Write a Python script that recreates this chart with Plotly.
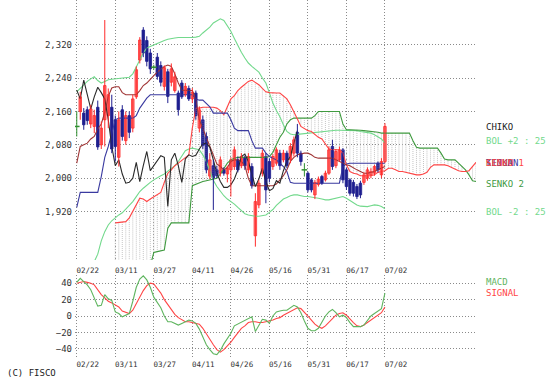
import plotly.graph_objects as go

# ---------------- data ----------------
tick_idx = [0, 11, 22, 33, 44, 55, 66, 77, 88]
tick_labels = ["02/22", "03/11", "03/27", "04/11", "04/26", "05/16", "05/31", "06/17", "07/02"]
price_ticks = [1920, 2000, 2080, 2160, 2240, 2320]
macd_ticks = [-40, -20, 0, 20, 40]

opens = [2124,2160,2156,2164,2130,2124,2170,2080,2140,2150,
         2170,2140,2050,2164,2090,2150,2120,2195,2283,2355,
         2330,2300,2266,2290,2270,2220,2255,2230,2210,2204,
         2228,2200,2215,2190,2204,2120,2140,2100,2005,2030,
         2020,2012,2020,2010,2020,2028,2044,2030,2048,2020,
         2028,1862,1936,2012,2052,2040,2028,2036,2060,2044,
         2060,2044,2060,2110,2060,2020,2012,1996,1960,1985,
         2004,1996,2012,2076,2030,2044,2068,2020,1996,1990,
         1980,1988,1990,2000,2008,2012,2036,2008,2040]
highs = [2160,2207,2168,2172,2176,2164,2186,2136,2379,2215,
         2200,2150,2160,2175,2160,2160,2200,2268,2338,2362,
         2340,2310,2272,2300,2280,2270,2262,2275,2255,2210,
         2235,2228,2222,2216,2210,2172,2150,2110,2060,2044,
         2030,2052,2026,2030,2050,2076,2052,2060,2054,2060,
         2036,1964,1996,2068,2060,2048,2058,2074,2068,2068,
         2066,2084,2100,2130,2066,2036,2016,2000,1996,2004,
         2008,2018,2076,2092,2070,2076,2072,2026,2000,1996,
         1986,1994,2014,2026,2024,2032,2040,2048,2132]
lows = [2100,2140,2116,2128,2120,2108,2068,2070,2076,2120,
        2060,2040,2028,2090,2080,2096,2110,2190,2275,2290,
        2268,2250,2260,2236,2220,2210,2180,2220,2205,2150,
        2190,2195,2185,2180,2140,2110,2070,2012,1998,1924,
        2000,2004,2006,1990,1956,2020,2014,2024,2020,2012,
        1975,1836,1928,2004,1940,1990,2020,2030,2020,2038,
        2024,2036,2052,2050,2030,2004,1966,1966,1950,1980,
        1984,1992,2008,2020,2024,2040,1988,1972,1958,1956,
        1950,1952,1984,1994,2000,2006,2014,2000,2036]
closes = [2124,2195,2128,2138,2166,2150,2075,2120,2222,2200,
          2070,2076,2140,2100,2150,2110,2190,2260,2331,2300,
          2280,2262,2266,2244,2230,2265,2196,2262,2243,2164,
          2195,2220,2190,2206,2150,2164,2078,2020,2044,2000,
          2006,2044,2012,2025,2044,2068,2020,2052,2030,2052,
          1982,1944,1988,2060,1972,2000,2052,2068,2030,2060,
          2030,2076,2092,2060,2040,2020,1972,1972,1990,1998,
          1988,2012,2068,2028,2064,2068,1996,1980,1964,1964,
          1956,1960,2008,2020,2016,2028,2020,2040,2124]

tenkan = [2036,2076,2080,2084,2094,2100,2118,2130,2158,2196,
          2216,2219,2219,2205,2200,2200,2200,2200,2210,2222,
          2228,2238,2246,2254,2262,2268,2271,2268,2250,2228,
          2211,2210,2210,2210,2188,2140,2118,2100,2076,2052,
          2034,2028,2020,2025,2040,2044,2044,2040,2030,2000,
          1982,1982,1982,1982,1982,1982,1982,1986,1996,2006,
          2020,2040,2050,2056,2058,2060,2060,2056,2050,2048,
          2048,2048,2048,2048,2044,2040,2034,2032,2030,2024,
          2020,2016,2012,2012,2014,2016,2020,2024,2028]
kijun = [1930,1966,1966,1966,1966,1966,1966,2004,2050,2076,
         2110,2140,2144,2144,2144,2144,2144,2150,2168,2180,
         2192,2200,2200,2200,2200,2200,2200,2200,2200,2200,
         2200,2200,2200,2200,2190,2187,2187,2180,2171,2156,
         2156,2156,2156,2156,2140,2120,2114,2114,2114,2114,
         2090,2072,2072,2072,2060,2052,2048,2044,2036,2028,
         2016,1990,1988,1988,1988,1988,1988,1988,1988,1988,
         1988,1988,1988,1988,1988,1988,2028,2034,2036,2036,
         2036,2036,2036,2036,2036,2036,2036,2036,2036]
chiko = [2211,2190,2235,2200,2166,2195,2218,2205,2190,2140,
         2076,2030,2044,2010,1988,1990,2000,2038,1992,2030,
         2064,2018,2030,2042,2054,2050,1932,2044,2060,2030,
         1990,2046,2056,2052,2055,2070,2082,2084,2074,2044,
         2012,1992,1978,1978,1984,1998,2020,2052,2058,2040,
         2010,1980,1998,2024,1992,1970,1975,1994,1988,2018,
         2040,2052,2084,2114]
bol_up = [2207,2215,2225,2232,2238,2243,2234,2228,2232,2236,
          2237,2238,2239,2240,2240,2242,2250,2268,2285,2300,
          2312,2316,2320,2324,2327,2330,2333,2335,2336,2337,
          2337,2336,2336,2337,2338,2340,2348,2355,2362,2372,
          2378,2382,2378,2365,2352,2335,2318,2302,2288,2276,
          2268,2260,2254,2240,2228,2205,2180,2162,2147,2128,
          2112,2106,2104,2105,2106,2107,2108,2109,2110,2110,
          2111,2112,2113,2114,2115,2115,2115,2114,2114,2114,
          2114,2112,2111,2110,2108,2104,2100,2094,2084]
bol_dn = [1740,1752,1764,1776,1788,1800,1818,1850,1872,1888,
          1898,1906,1912,1917,1926,1935,1944,1956,1968,1976,
          1984,1990,1996,2002,2006,2010,2016,2022,2030,2040,
          2052,2066,2070,2072,2070,2068,2056,2040,2018,1995,
          1980,1968,1958,1950,1945,1938,1930,1922,1915,1912,
          1910,1909,1909,1910,1912,1918,1925,1935,1943,1950,
          1954,1958,1960,1960,1958,1956,1956,1955,1954,1952,
          1950,1948,1948,1950,1953,1955,1956,1952,1946,1940,
          1936,1933,1932,1932,1934,1936,1935,1932,1927]
senko_start = 11
senko1 = [1893,1894,1895,1896,1905,1920,1935,1952,1950,1944,
          1950,1956,1960,1966,1990,2012,2020,2030,2036,2042,
          2050,2056,2120,2168,2168,2170,2170,2170,2170,2168,
          2162,2152,2172,2190,2198,2210,2218,2224,2232,2235,
          2230,2224,2215,2207,2205,2204,2204,2204,2198,2190,
          2176,2160,2142,2124,2118,2114,2112,2104,2098,2094,
          2082,2070,2068,2068,2068,2060,2032,2016,2012,2010,
          2006,2006,2006,2006,2008,2014,2016,2018,2024,2024,
          2020,2016,2016,2014,2012,2010,2008,2008,2010,2014,
          2026,2032,2032,2032,2032,2030,2026,2022,2018,2016,
          2016,2018,2028,2038]
senko2 = [1780,1780,1780,1780,1780,1780,1780,1780,1780,1780,
          1790,1822,1824,1826,1828,1880,1893,1893,1893,1893,
          1893,1893,1982,1986,1990,1992,1994,1996,1998,2000,
          2010,2022,2036,2044,2048,2050,2050,2050,2050,2050,
          2050,2050,2050,2050,2052,2062,2080,2098,2110,2130,
          2140,2144,2144,2144,2144,2144,2144,2150,2160,2160,
          2160,2160,2160,2160,2160,2130,2116,2116,2116,2116,
          2115,2114,2113,2112,2112,2110,2108,2108,2108,2108,
          2108,2108,2108,2108,2108,2090,2074,2072,2072,2072,
          2072,2072,2072,2060,2046,2044,2044,2044,2036,2028,
          2020,2008,1994,1992]
macd = [41,46,42,38,32,21,12,13,26,21,
        19,5,3,-1,1,3,18,35,45,49,
        44,35,23,16,10,0,-7,-7,-9,-11,
        -9,-7,-5,-6,-9,-16,-26,-35,-41,-46,
        -47,-42,-34,-28,-21,-12,-10,-8,-6,-3,
        -1,-19,-11,-4,-5,-9,0,5,6,7,
        7,10,13,11,4,-6,-15,-18,-18,-15,
        -8,0,5,8,4,-1,1,-2,-8,-13,
        -13,-13,-11,-5,0,3,6,9,28]
signal = [40,41,42,41,40,38,32,26,22,18,
          16,14,11,6,4,3,7,15,23,31,
          37,40,39,34,28,20,14,7,2,-2,
          -5,-7,-7,-8,-9,-10,-15,-22,-29,-35,
          -41,-44,-41,-37,-32,-26,-20,-15,-12,-8,
          -7,-7,-8,-8,-7,-6,-5,-3,-2,1,
          3,6,8,10,9,5,0,-5,-10,-13,
          -15,-12,-8,-3,1,3,4,1,-4,-8,
          -12,-13,-11,-8,-5,-3,0,4,11]

# ---------------- styles ----------------
FONT = "DejaVu Sans Mono"
C_UP_FILL, C_UP_LINE = "#ff8a8a", "#ff2b2b"
C_DN = "#1f1f8f"
C_DOJI = "#2f8f2f"
C_RED = "#ff4545"
C_DGREEN = "#3f9a3f"
C_LGREEN = "#72d98c"
C_NAVY = "#3a3aa0"
C_BROWN = "#a03535"
C_GRID = "#8a8a8a"

n = len(closes)
idx = list(range(n))
fig = go.Figure()

# cloud hatch: vertical lines between the two senko spans
hx, hy = [], []
for k, (a, b) in enumerate(zip(senko1, senko2)):
    i = senko_start + k
    hx += [i, i, None]
    hy += [a, b, None]
fig.add_trace(go.Scatter(x=hx, y=hy, mode="lines",
                         line=dict(color="#c4c4c4", width=1, dash="1px,1px"),
                         hoverinfo="skip", xaxis="x", yaxis="y"))

sx = [senko_start + k for k in range(len(senko1))]
def line(x, y, color, w=1.1, xa="x", ya="y"):
    fig.add_trace(go.Scatter(x=x, y=y, mode="lines", line=dict(color=color, width=w),
                             hoverinfo="skip", xaxis=xa, yaxis=ya))

line(idx, bol_up, C_LGREEN)
line(idx, bol_dn, C_LGREEN)
line(sx, senko2, C_DGREEN)
line(sx, senko1, C_RED)
line(idx, kijun, C_NAVY)
line(idx, tenkan, C_BROWN)
line(list(range(len(chiko))), chiko, "#2a2a2a")

# candles
groups = {
    "up": [i for i in idx if closes[i] > opens[i]],
    "dn": [i for i in idx if closes[i] < opens[i]],
    "doji": [i for i in idx if closes[i] == opens[i]],
}
wick_col = {"up": C_UP_LINE, "dn": C_DN, "doji": C_DOJI}
for g, ids in groups.items():
    wx, wy = [], []
    for i in ids:
        wx += [i, i, None]
        wy += [lows[i], highs[i], None]
    fig.add_trace(go.Scatter(x=wx, y=wy, mode="lines", line=dict(color=wick_col[g], width=1),
                             hoverinfo="skip", xaxis="x", yaxis="y"))
for g, fill, edge in [("up", C_UP_FILL, C_UP_LINE), ("dn", C_DN, C_DN)]:
    ids = groups[g]
    fig.add_trace(go.Bar(x=ids,
                         y=[abs(closes[i] - opens[i]) for i in ids],
                         base=[min(opens[i], closes[i]) for i in ids],
                         width=0.72, marker=dict(color=fill, line=dict(color=edge, width=0.8)),
                         hoverinfo="skip", xaxis="x", yaxis="y"))
fig.add_trace(go.Scatter(x=groups["doji"], y=[closes[i] for i in groups["doji"]], mode="markers",
                         marker=dict(symbol="line-ew", size=4, line=dict(color=C_DOJI, width=1.5)),
                         hoverinfo="skip", xaxis="x", yaxis="y"))

# MACD panel
line(idx, signal, C_RED, 1.1, "x2", "y2")
line(idx, macd, "#5fb55f", 1.1, "x2", "y2")

axis_common = dict(showgrid=True, gridcolor=C_GRID, griddash="1px,2px", gridwidth=1,
                   zeroline=False, showline=False, ticks="")
xcommon = dict(axis_common, range=[-0.5, 114], tickvals=tick_idx, ticktext=tick_labels,
               tickfont=dict(family=FONT, size=7.5, color="#333"), ticklabelshift=11)

fig.update_layout(
    width=555, height=383, margin=dict(l=75, r=79, t=0, b=26),
    plot_bgcolor="white", paper_bgcolor="white", showlegend=False, barmode="overlay",
    hovermode=False,
    xaxis=dict(xcommon, domain=[0, 1], anchor="y", ticklabelstandoff=4),
    xaxis2=dict(xcommon, domain=[0, 1], anchor="y2", matches="x", ticklabelstandoff=1),
    yaxis=dict(axis_common, domain=[1 - 260 / 357, 1], range=[1804, 2427], tickvals=price_ticks,
               tickformat=",", tickfont=dict(family=FONT, size=9, color="#333"), ticklabelstandoff=2),
    yaxis2=dict(axis_common, domain=[0, 82 / 357], range=[-50, 50], tickvals=macd_ticks,
                tickfont=dict(family=FONT, size=9, color="#333"), ticklabelstandoff=2),
)

def label(text, ypix, color):
    fig.add_annotation(x=1, xref="paper", xanchor="left", xshift=8, y=1 - ypix / 357, yref="paper",
                       yanchor="middle", text=text, showarrow=False,
                       font=dict(family=FONT, size=9, color=color))

label("CHIKO", 127, "#222")
label("BOL +2 : 25", 141, C_LGREEN)
label("KIJUN", 163.5, C_BROWN)
label("TENKAN", 163.5, C_NAVY)
label("SENKO 1", 163.5, C_RED)
label("SENKO 2", 184, C_DGREEN)
label("BOL -2 : 25", 212, C_LGREEN)
label("MACD", 282, "#5fb55f")
label("SIGNAL", 292.5, C_RED)

fig.add_annotation(x=(5 - 75) / 401, xref="paper", y=1 - 373 / 357, yref="paper", text="(C) FISCO",
                   showarrow=False, xanchor="left", yanchor="middle",
                   font=dict(family=FONT, size=9, color="#222"))

fig.write_html("out.html", config={"displayModeBar": False},
               post_script="document.body.style.margin='0';document.body.style.padding='0';")
